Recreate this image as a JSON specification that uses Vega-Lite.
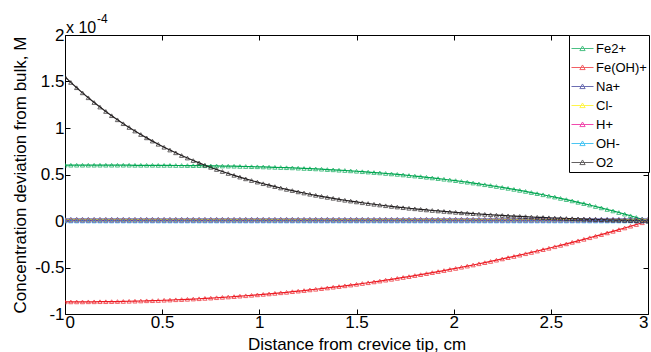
{
"$schema":"https://vega.github.io/schema/vega-lite/v6.json",
"width":583,"height":279,
"autosize":{"type":"none"},
"padding":{"left":65,"top":35,"right":3,"bottom":38},
"background":"white",
"config":{"view":{"stroke":null},"font":"Liberation Sans",
"axis":{"grid":false,"domainColor":"black","domainWidth":1,"tickColor":"black","tickWidth":1,"tickSize":-5,"labelColor":"black","titleColor":"black","labelFont":"Liberation Sans","titleFont":"Liberation Sans","labelFontSize":17,"titleFontSize":17,"titleFontWeight":"normal"}},
"datasets":{
"main":[
{"x":0,"ion":"Fe2+","c":0.6},{"x":0.03,"ion":"Fe2+","c":0.6},{"x":0.06,"ion":"Fe2+","c":0.6},{"x":0.09,"ion":"Fe2+","c":0.6},{"x":0.12,"ion":"Fe2+","c":0.6},{"x":0.15,"ion":"Fe2+","c":0.6},{"x":0.18,"ion":"Fe2+","c":0.6},{"x":0.21,"ion":"Fe2+","c":0.6},{"x":0.24,"ion":"Fe2+","c":0.6},{"x":0.27,"ion":"Fe2+","c":0.6},{"x":0.3,"ion":"Fe2+","c":0.6},{"x":0.33,"ion":"Fe2+","c":0.6},{"x":0.36,"ion":"Fe2+","c":0.599},{"x":0.39,"ion":"Fe2+","c":0.599},{"x":0.42,"ion":"Fe2+","c":0.599},{"x":0.45,"ion":"Fe2+","c":0.599},{"x":0.48,"ion":"Fe2+","c":0.598},{"x":0.51,"ion":"Fe2+","c":0.598},{"x":0.54,"ion":"Fe2+","c":0.598},{"x":0.57,"ion":"Fe2+","c":0.597},{"x":0.6,"ion":"Fe2+","c":0.597},{"x":0.63,"ion":"Fe2+","c":0.596},{"x":0.66,"ion":"Fe2+","c":0.595},{"x":0.69,"ion":"Fe2+","c":0.595},{"x":0.72,"ion":"Fe2+","c":0.594},{"x":0.75,"ion":"Fe2+","c":0.593},{"x":0.78,"ion":"Fe2+","c":0.592},{"x":0.81,"ion":"Fe2+","c":0.591},{"x":0.84,"ion":"Fe2+","c":0.59},{"x":0.87,"ion":"Fe2+","c":0.589},{"x":0.9,"ion":"Fe2+","c":0.587},{"x":0.93,"ion":"Fe2+","c":0.586},{"x":0.96,"ion":"Fe2+","c":0.584},{"x":0.99,"ion":"Fe2+","c":0.583},{"x":1.02,"ion":"Fe2+","c":0.581},{"x":1.05,"ion":"Fe2+","c":0.579},{"x":1.08,"ion":"Fe2+","c":0.577},{"x":1.11,"ion":"Fe2+","c":0.575},{"x":1.14,"ion":"Fe2+","c":0.573},{"x":1.17,"ion":"Fe2+","c":0.571},{"x":1.2,"ion":"Fe2+","c":0.568},{"x":1.23,"ion":"Fe2+","c":0.565},{"x":1.26,"ion":"Fe2+","c":0.563},{"x":1.29,"ion":"Fe2+","c":0.56},{"x":1.32,"ion":"Fe2+","c":0.557},{"x":1.35,"ion":"Fe2+","c":0.553},{"x":1.38,"ion":"Fe2+","c":0.55},{"x":1.41,"ion":"Fe2+","c":0.546},{"x":1.44,"ion":"Fe2+","c":0.543},{"x":1.47,"ion":"Fe2+","c":0.539},{"x":1.5,"ion":"Fe2+","c":0.535},{"x":1.53,"ion":"Fe2+","c":0.53},{"x":1.56,"ion":"Fe2+","c":0.526},{"x":1.59,"ion":"Fe2+","c":0.521},{"x":1.62,"ion":"Fe2+","c":0.517},{"x":1.65,"ion":"Fe2+","c":0.511},{"x":1.68,"ion":"Fe2+","c":0.506},{"x":1.71,"ion":"Fe2+","c":0.501},{"x":1.74,"ion":"Fe2+","c":0.495},{"x":1.77,"ion":"Fe2+","c":0.489},{"x":1.8,"ion":"Fe2+","c":0.483},{"x":1.83,"ion":"Fe2+","c":0.477},{"x":1.86,"ion":"Fe2+","c":0.47},{"x":1.89,"ion":"Fe2+","c":0.463},{"x":1.92,"ion":"Fe2+","c":0.456},{"x":1.95,"ion":"Fe2+","c":0.449},{"x":1.98,"ion":"Fe2+","c":0.441},{"x":2.01,"ion":"Fe2+","c":0.434},{"x":2.04,"ion":"Fe2+","c":0.425},{"x":2.07,"ion":"Fe2+","c":0.417},{"x":2.1,"ion":"Fe2+","c":0.408},{"x":2.13,"ion":"Fe2+","c":0.399},{"x":2.16,"ion":"Fe2+","c":0.39},{"x":2.19,"ion":"Fe2+","c":0.381},{"x":2.22,"ion":"Fe2+","c":0.371},{"x":2.25,"ion":"Fe2+","c":0.361},{"x":2.28,"ion":"Fe2+","c":0.351},{"x":2.31,"ion":"Fe2+","c":0.34},{"x":2.34,"ion":"Fe2+","c":0.329},{"x":2.37,"ion":"Fe2+","c":0.318},{"x":2.4,"ion":"Fe2+","c":0.306},{"x":2.43,"ion":"Fe2+","c":0.294},{"x":2.46,"ion":"Fe2+","c":0.282},{"x":2.49,"ion":"Fe2+","c":0.269},{"x":2.52,"ion":"Fe2+","c":0.257},{"x":2.55,"ion":"Fe2+","c":0.243},{"x":2.58,"ion":"Fe2+","c":0.23},{"x":2.61,"ion":"Fe2+","c":0.216},{"x":2.64,"ion":"Fe2+","c":0.201},{"x":2.67,"ion":"Fe2+","c":0.187},{"x":2.7,"ion":"Fe2+","c":0.172},{"x":2.73,"ion":"Fe2+","c":0.156},{"x":2.76,"ion":"Fe2+","c":0.141},{"x":2.79,"ion":"Fe2+","c":0.124},{"x":2.82,"ion":"Fe2+","c":0.108},{"x":2.85,"ion":"Fe2+","c":0.091},{"x":2.88,"ion":"Fe2+","c":0.074},{"x":2.91,"ion":"Fe2+","c":0.056},{"x":2.94,"ion":"Fe2+","c":0.038},{"x":2.97,"ion":"Fe2+","c":0.019},{"x":3,"ion":"Fe2+","c":0},
{"x":0,"ion":"Fe(OH)+","c":-0.87},{"x":0.03,"ion":"Fe(OH)+","c":-0.87},{"x":0.06,"ion":"Fe(OH)+","c":-0.87},{"x":0.09,"ion":"Fe(OH)+","c":-0.87},{"x":0.12,"ion":"Fe(OH)+","c":-0.869},{"x":0.15,"ion":"Fe(OH)+","c":-0.869},{"x":0.18,"ion":"Fe(OH)+","c":-0.868},{"x":0.21,"ion":"Fe(OH)+","c":-0.868},{"x":0.24,"ion":"Fe(OH)+","c":-0.867},{"x":0.27,"ion":"Fe(OH)+","c":-0.866},{"x":0.3,"ion":"Fe(OH)+","c":-0.865},{"x":0.33,"ion":"Fe(OH)+","c":-0.863},{"x":0.36,"ion":"Fe(OH)+","c":-0.862},{"x":0.39,"ion":"Fe(OH)+","c":-0.86},{"x":0.42,"ion":"Fe(OH)+","c":-0.858},{"x":0.45,"ion":"Fe(OH)+","c":-0.857},{"x":0.48,"ion":"Fe(OH)+","c":-0.855},{"x":0.51,"ion":"Fe(OH)+","c":-0.852},{"x":0.54,"ion":"Fe(OH)+","c":-0.85},{"x":0.57,"ion":"Fe(OH)+","c":-0.847},{"x":0.6,"ion":"Fe(OH)+","c":-0.845},{"x":0.63,"ion":"Fe(OH)+","c":-0.842},{"x":0.66,"ion":"Fe(OH)+","c":-0.839},{"x":0.69,"ion":"Fe(OH)+","c":-0.836},{"x":0.72,"ion":"Fe(OH)+","c":-0.832},{"x":0.75,"ion":"Fe(OH)+","c":-0.829},{"x":0.78,"ion":"Fe(OH)+","c":-0.825},{"x":0.81,"ion":"Fe(OH)+","c":-0.821},{"x":0.84,"ion":"Fe(OH)+","c":-0.817},{"x":0.87,"ion":"Fe(OH)+","c":-0.813},{"x":0.9,"ion":"Fe(OH)+","c":-0.808},{"x":0.93,"ion":"Fe(OH)+","c":-0.804},{"x":0.96,"ion":"Fe(OH)+","c":-0.799},{"x":0.99,"ion":"Fe(OH)+","c":-0.794},{"x":1.02,"ion":"Fe(OH)+","c":-0.789},{"x":1.05,"ion":"Fe(OH)+","c":-0.784},{"x":1.08,"ion":"Fe(OH)+","c":-0.778},{"x":1.11,"ion":"Fe(OH)+","c":-0.772},{"x":1.14,"ion":"Fe(OH)+","c":-0.767},{"x":1.17,"ion":"Fe(OH)+","c":-0.76},{"x":1.2,"ion":"Fe(OH)+","c":-0.754},{"x":1.23,"ion":"Fe(OH)+","c":-0.748},{"x":1.26,"ion":"Fe(OH)+","c":-0.741},{"x":1.29,"ion":"Fe(OH)+","c":-0.734},{"x":1.32,"ion":"Fe(OH)+","c":-0.727},{"x":1.35,"ion":"Fe(OH)+","c":-0.72},{"x":1.38,"ion":"Fe(OH)+","c":-0.712},{"x":1.41,"ion":"Fe(OH)+","c":-0.705},{"x":1.44,"ion":"Fe(OH)+","c":-0.697},{"x":1.47,"ion":"Fe(OH)+","c":-0.689},{"x":1.5,"ion":"Fe(OH)+","c":-0.681},{"x":1.53,"ion":"Fe(OH)+","c":-0.672},{"x":1.56,"ion":"Fe(OH)+","c":-0.664},{"x":1.59,"ion":"Fe(OH)+","c":-0.655},{"x":1.62,"ion":"Fe(OH)+","c":-0.646},{"x":1.65,"ion":"Fe(OH)+","c":-0.636},{"x":1.68,"ion":"Fe(OH)+","c":-0.627},{"x":1.71,"ion":"Fe(OH)+","c":-0.617},{"x":1.74,"ion":"Fe(OH)+","c":-0.607},{"x":1.77,"ion":"Fe(OH)+","c":-0.598},{"x":1.8,"ion":"Fe(OH)+","c":-0.587},{"x":1.83,"ion":"Fe(OH)+","c":-0.577},{"x":1.86,"ion":"Fe(OH)+","c":-0.566},{"x":1.89,"ion":"Fe(OH)+","c":-0.555},{"x":1.92,"ion":"Fe(OH)+","c":-0.544},{"x":1.95,"ion":"Fe(OH)+","c":-0.533},{"x":1.98,"ion":"Fe(OH)+","c":-0.521},{"x":2.01,"ion":"Fe(OH)+","c":-0.51},{"x":2.04,"ion":"Fe(OH)+","c":-0.497},{"x":2.07,"ion":"Fe(OH)+","c":-0.485},{"x":2.1,"ion":"Fe(OH)+","c":-0.473},{"x":2.13,"ion":"Fe(OH)+","c":-0.46},{"x":2.16,"ion":"Fe(OH)+","c":-0.448},{"x":2.19,"ion":"Fe(OH)+","c":-0.435},{"x":2.22,"ion":"Fe(OH)+","c":-0.421},{"x":2.25,"ion":"Fe(OH)+","c":-0.408},{"x":2.28,"ion":"Fe(OH)+","c":-0.394},{"x":2.31,"ion":"Fe(OH)+","c":-0.381},{"x":2.34,"ion":"Fe(OH)+","c":-0.367},{"x":2.37,"ion":"Fe(OH)+","c":-0.352},{"x":2.4,"ion":"Fe(OH)+","c":-0.338},{"x":2.43,"ion":"Fe(OH)+","c":-0.323},{"x":2.46,"ion":"Fe(OH)+","c":-0.308},{"x":2.49,"ion":"Fe(OH)+","c":-0.293},{"x":2.52,"ion":"Fe(OH)+","c":-0.277},{"x":2.55,"ion":"Fe(OH)+","c":-0.262},{"x":2.58,"ion":"Fe(OH)+","c":-0.246},{"x":2.61,"ion":"Fe(OH)+","c":-0.229},{"x":2.64,"ion":"Fe(OH)+","c":-0.213},{"x":2.67,"ion":"Fe(OH)+","c":-0.197},{"x":2.7,"ion":"Fe(OH)+","c":-0.18},{"x":2.73,"ion":"Fe(OH)+","c":-0.163},{"x":2.76,"ion":"Fe(OH)+","c":-0.146},{"x":2.79,"ion":"Fe(OH)+","c":-0.128},{"x":2.82,"ion":"Fe(OH)+","c":-0.111},{"x":2.85,"ion":"Fe(OH)+","c":-0.093},{"x":2.88,"ion":"Fe(OH)+","c":-0.075},{"x":2.91,"ion":"Fe(OH)+","c":-0.056},{"x":2.94,"ion":"Fe(OH)+","c":-0.038},{"x":2.97,"ion":"Fe(OH)+","c":-0.019},{"x":3,"ion":"Fe(OH)+","c":0},
{"x":0,"ion":"Na+","c":0.02},{"x":0.03,"ion":"Na+","c":0.02},{"x":0.06,"ion":"Na+","c":0.02},{"x":0.09,"ion":"Na+","c":0.02},{"x":0.12,"ion":"Na+","c":0.02},{"x":0.15,"ion":"Na+","c":0.02},{"x":0.18,"ion":"Na+","c":0.02},{"x":0.21,"ion":"Na+","c":0.02},{"x":0.24,"ion":"Na+","c":0.02},{"x":0.27,"ion":"Na+","c":0.02},{"x":0.3,"ion":"Na+","c":0.02},{"x":0.33,"ion":"Na+","c":0.02},{"x":0.36,"ion":"Na+","c":0.02},{"x":0.39,"ion":"Na+","c":0.02},{"x":0.42,"ion":"Na+","c":0.02},{"x":0.45,"ion":"Na+","c":0.02},{"x":0.48,"ion":"Na+","c":0.02},{"x":0.51,"ion":"Na+","c":0.02},{"x":0.54,"ion":"Na+","c":0.02},{"x":0.57,"ion":"Na+","c":0.02},{"x":0.6,"ion":"Na+","c":0.02},{"x":0.63,"ion":"Na+","c":0.02},{"x":0.66,"ion":"Na+","c":0.02},{"x":0.69,"ion":"Na+","c":0.02},{"x":0.72,"ion":"Na+","c":0.02},{"x":0.75,"ion":"Na+","c":0.02},{"x":0.78,"ion":"Na+","c":0.02},{"x":0.81,"ion":"Na+","c":0.02},{"x":0.84,"ion":"Na+","c":0.02},{"x":0.87,"ion":"Na+","c":0.02},{"x":0.9,"ion":"Na+","c":0.02},{"x":0.93,"ion":"Na+","c":0.02},{"x":0.96,"ion":"Na+","c":0.02},{"x":0.99,"ion":"Na+","c":0.02},{"x":1.02,"ion":"Na+","c":0.02},{"x":1.05,"ion":"Na+","c":0.02},{"x":1.08,"ion":"Na+","c":0.02},{"x":1.11,"ion":"Na+","c":0.02},{"x":1.14,"ion":"Na+","c":0.02},{"x":1.17,"ion":"Na+","c":0.02},{"x":1.2,"ion":"Na+","c":0.02},{"x":1.23,"ion":"Na+","c":0.02},{"x":1.26,"ion":"Na+","c":0.02},{"x":1.29,"ion":"Na+","c":0.02},{"x":1.32,"ion":"Na+","c":0.02},{"x":1.35,"ion":"Na+","c":0.02},{"x":1.38,"ion":"Na+","c":0.02},{"x":1.41,"ion":"Na+","c":0.02},{"x":1.44,"ion":"Na+","c":0.02},{"x":1.47,"ion":"Na+","c":0.02},{"x":1.5,"ion":"Na+","c":0.02},{"x":1.53,"ion":"Na+","c":0.02},{"x":1.56,"ion":"Na+","c":0.02},{"x":1.59,"ion":"Na+","c":0.02},{"x":1.62,"ion":"Na+","c":0.02},{"x":1.65,"ion":"Na+","c":0.02},{"x":1.68,"ion":"Na+","c":0.02},{"x":1.71,"ion":"Na+","c":0.02},{"x":1.74,"ion":"Na+","c":0.02},{"x":1.77,"ion":"Na+","c":0.02},{"x":1.8,"ion":"Na+","c":0.02},{"x":1.83,"ion":"Na+","c":0.02},{"x":1.86,"ion":"Na+","c":0.02},{"x":1.89,"ion":"Na+","c":0.02},{"x":1.92,"ion":"Na+","c":0.02},{"x":1.95,"ion":"Na+","c":0.02},{"x":1.98,"ion":"Na+","c":0.02},{"x":2.01,"ion":"Na+","c":0.02},{"x":2.04,"ion":"Na+","c":0.02},{"x":2.07,"ion":"Na+","c":0.02},{"x":2.1,"ion":"Na+","c":0.02},{"x":2.13,"ion":"Na+","c":0.02},{"x":2.16,"ion":"Na+","c":0.02},{"x":2.19,"ion":"Na+","c":0.02},{"x":2.22,"ion":"Na+","c":0.02},{"x":2.25,"ion":"Na+","c":0.02},{"x":2.28,"ion":"Na+","c":0.02},{"x":2.31,"ion":"Na+","c":0.02},{"x":2.34,"ion":"Na+","c":0.02},{"x":2.37,"ion":"Na+","c":0.02},{"x":2.4,"ion":"Na+","c":0.02},{"x":2.43,"ion":"Na+","c":0.02},{"x":2.46,"ion":"Na+","c":0.02},{"x":2.49,"ion":"Na+","c":0.02},{"x":2.52,"ion":"Na+","c":0.02},{"x":2.55,"ion":"Na+","c":0.02},{"x":2.58,"ion":"Na+","c":0.02},{"x":2.61,"ion":"Na+","c":0.02},{"x":2.64,"ion":"Na+","c":0.02},{"x":2.67,"ion":"Na+","c":0.02},{"x":2.7,"ion":"Na+","c":0.02},{"x":2.73,"ion":"Na+","c":0.02},{"x":2.76,"ion":"Na+","c":0.02},{"x":2.79,"ion":"Na+","c":0.02},{"x":2.82,"ion":"Na+","c":0.02},{"x":2.85,"ion":"Na+","c":0.02},{"x":2.88,"ion":"Na+","c":0.02},{"x":2.91,"ion":"Na+","c":0.02},{"x":2.94,"ion":"Na+","c":0.02},{"x":2.97,"ion":"Na+","c":0.02},{"x":3,"ion":"Na+","c":0.02},
{"x":0,"ion":"Cl-","c":0.01},{"x":0.03,"ion":"Cl-","c":0.01},{"x":0.06,"ion":"Cl-","c":0.01},{"x":0.09,"ion":"Cl-","c":0.01},{"x":0.12,"ion":"Cl-","c":0.01},{"x":0.15,"ion":"Cl-","c":0.01},{"x":0.18,"ion":"Cl-","c":0.01},{"x":0.21,"ion":"Cl-","c":0.01},{"x":0.24,"ion":"Cl-","c":0.01},{"x":0.27,"ion":"Cl-","c":0.01},{"x":0.3,"ion":"Cl-","c":0.01},{"x":0.33,"ion":"Cl-","c":0.01},{"x":0.36,"ion":"Cl-","c":0.01},{"x":0.39,"ion":"Cl-","c":0.01},{"x":0.42,"ion":"Cl-","c":0.01},{"x":0.45,"ion":"Cl-","c":0.01},{"x":0.48,"ion":"Cl-","c":0.01},{"x":0.51,"ion":"Cl-","c":0.01},{"x":0.54,"ion":"Cl-","c":0.01},{"x":0.57,"ion":"Cl-","c":0.01},{"x":0.6,"ion":"Cl-","c":0.01},{"x":0.63,"ion":"Cl-","c":0.01},{"x":0.66,"ion":"Cl-","c":0.01},{"x":0.69,"ion":"Cl-","c":0.01},{"x":0.72,"ion":"Cl-","c":0.01},{"x":0.75,"ion":"Cl-","c":0.01},{"x":0.78,"ion":"Cl-","c":0.01},{"x":0.81,"ion":"Cl-","c":0.01},{"x":0.84,"ion":"Cl-","c":0.01},{"x":0.87,"ion":"Cl-","c":0.01},{"x":0.9,"ion":"Cl-","c":0.01},{"x":0.93,"ion":"Cl-","c":0.01},{"x":0.96,"ion":"Cl-","c":0.01},{"x":0.99,"ion":"Cl-","c":0.01},{"x":1.02,"ion":"Cl-","c":0.01},{"x":1.05,"ion":"Cl-","c":0.01},{"x":1.08,"ion":"Cl-","c":0.01},{"x":1.11,"ion":"Cl-","c":0.01},{"x":1.14,"ion":"Cl-","c":0.01},{"x":1.17,"ion":"Cl-","c":0.01},{"x":1.2,"ion":"Cl-","c":0.01},{"x":1.23,"ion":"Cl-","c":0.01},{"x":1.26,"ion":"Cl-","c":0.01},{"x":1.29,"ion":"Cl-","c":0.01},{"x":1.32,"ion":"Cl-","c":0.01},{"x":1.35,"ion":"Cl-","c":0.01},{"x":1.38,"ion":"Cl-","c":0.01},{"x":1.41,"ion":"Cl-","c":0.01},{"x":1.44,"ion":"Cl-","c":0.01},{"x":1.47,"ion":"Cl-","c":0.01},{"x":1.5,"ion":"Cl-","c":0.01},{"x":1.53,"ion":"Cl-","c":0.01},{"x":1.56,"ion":"Cl-","c":0.01},{"x":1.59,"ion":"Cl-","c":0.01},{"x":1.62,"ion":"Cl-","c":0.01},{"x":1.65,"ion":"Cl-","c":0.01},{"x":1.68,"ion":"Cl-","c":0.01},{"x":1.71,"ion":"Cl-","c":0.01},{"x":1.74,"ion":"Cl-","c":0.01},{"x":1.77,"ion":"Cl-","c":0.01},{"x":1.8,"ion":"Cl-","c":0.01},{"x":1.83,"ion":"Cl-","c":0.01},{"x":1.86,"ion":"Cl-","c":0.01},{"x":1.89,"ion":"Cl-","c":0.01},{"x":1.92,"ion":"Cl-","c":0.01},{"x":1.95,"ion":"Cl-","c":0.01},{"x":1.98,"ion":"Cl-","c":0.01},{"x":2.01,"ion":"Cl-","c":0.01},{"x":2.04,"ion":"Cl-","c":0.01},{"x":2.07,"ion":"Cl-","c":0.01},{"x":2.1,"ion":"Cl-","c":0.01},{"x":2.13,"ion":"Cl-","c":0.01},{"x":2.16,"ion":"Cl-","c":0.01},{"x":2.19,"ion":"Cl-","c":0.01},{"x":2.22,"ion":"Cl-","c":0.01},{"x":2.25,"ion":"Cl-","c":0.01},{"x":2.28,"ion":"Cl-","c":0.01},{"x":2.31,"ion":"Cl-","c":0.01},{"x":2.34,"ion":"Cl-","c":0.01},{"x":2.37,"ion":"Cl-","c":0.01},{"x":2.4,"ion":"Cl-","c":0.01},{"x":2.43,"ion":"Cl-","c":0.01},{"x":2.46,"ion":"Cl-","c":0.01},{"x":2.49,"ion":"Cl-","c":0.01},{"x":2.52,"ion":"Cl-","c":0.01},{"x":2.55,"ion":"Cl-","c":0.01},{"x":2.58,"ion":"Cl-","c":0.01},{"x":2.61,"ion":"Cl-","c":0.01},{"x":2.64,"ion":"Cl-","c":0.01},{"x":2.67,"ion":"Cl-","c":0.01},{"x":2.7,"ion":"Cl-","c":0.01},{"x":2.73,"ion":"Cl-","c":0.01},{"x":2.76,"ion":"Cl-","c":0.01},{"x":2.79,"ion":"Cl-","c":0.01},{"x":2.82,"ion":"Cl-","c":0.01},{"x":2.85,"ion":"Cl-","c":0.01},{"x":2.88,"ion":"Cl-","c":0.01},{"x":2.91,"ion":"Cl-","c":0.01},{"x":2.94,"ion":"Cl-","c":0.01},{"x":2.97,"ion":"Cl-","c":0.01},{"x":3,"ion":"Cl-","c":0.01},
{"x":0,"ion":"H+","c":0.005},{"x":0.03,"ion":"H+","c":0.005},{"x":0.06,"ion":"H+","c":0.005},{"x":0.09,"ion":"H+","c":0.005},{"x":0.12,"ion":"H+","c":0.005},{"x":0.15,"ion":"H+","c":0.005},{"x":0.18,"ion":"H+","c":0.005},{"x":0.21,"ion":"H+","c":0.005},{"x":0.24,"ion":"H+","c":0.005},{"x":0.27,"ion":"H+","c":0.005},{"x":0.3,"ion":"H+","c":0.005},{"x":0.33,"ion":"H+","c":0.005},{"x":0.36,"ion":"H+","c":0.005},{"x":0.39,"ion":"H+","c":0.005},{"x":0.42,"ion":"H+","c":0.005},{"x":0.45,"ion":"H+","c":0.005},{"x":0.48,"ion":"H+","c":0.005},{"x":0.51,"ion":"H+","c":0.005},{"x":0.54,"ion":"H+","c":0.005},{"x":0.57,"ion":"H+","c":0.005},{"x":0.6,"ion":"H+","c":0.005},{"x":0.63,"ion":"H+","c":0.005},{"x":0.66,"ion":"H+","c":0.005},{"x":0.69,"ion":"H+","c":0.005},{"x":0.72,"ion":"H+","c":0.005},{"x":0.75,"ion":"H+","c":0.005},{"x":0.78,"ion":"H+","c":0.005},{"x":0.81,"ion":"H+","c":0.005},{"x":0.84,"ion":"H+","c":0.005},{"x":0.87,"ion":"H+","c":0.005},{"x":0.9,"ion":"H+","c":0.005},{"x":0.93,"ion":"H+","c":0.005},{"x":0.96,"ion":"H+","c":0.005},{"x":0.99,"ion":"H+","c":0.005},{"x":1.02,"ion":"H+","c":0.005},{"x":1.05,"ion":"H+","c":0.005},{"x":1.08,"ion":"H+","c":0.005},{"x":1.11,"ion":"H+","c":0.005},{"x":1.14,"ion":"H+","c":0.005},{"x":1.17,"ion":"H+","c":0.005},{"x":1.2,"ion":"H+","c":0.005},{"x":1.23,"ion":"H+","c":0.005},{"x":1.26,"ion":"H+","c":0.005},{"x":1.29,"ion":"H+","c":0.005},{"x":1.32,"ion":"H+","c":0.005},{"x":1.35,"ion":"H+","c":0.005},{"x":1.38,"ion":"H+","c":0.005},{"x":1.41,"ion":"H+","c":0.005},{"x":1.44,"ion":"H+","c":0.005},{"x":1.47,"ion":"H+","c":0.005},{"x":1.5,"ion":"H+","c":0.005},{"x":1.53,"ion":"H+","c":0.005},{"x":1.56,"ion":"H+","c":0.005},{"x":1.59,"ion":"H+","c":0.005},{"x":1.62,"ion":"H+","c":0.005},{"x":1.65,"ion":"H+","c":0.005},{"x":1.68,"ion":"H+","c":0.005},{"x":1.71,"ion":"H+","c":0.005},{"x":1.74,"ion":"H+","c":0.005},{"x":1.77,"ion":"H+","c":0.005},{"x":1.8,"ion":"H+","c":0.005},{"x":1.83,"ion":"H+","c":0.005},{"x":1.86,"ion":"H+","c":0.005},{"x":1.89,"ion":"H+","c":0.005},{"x":1.92,"ion":"H+","c":0.005},{"x":1.95,"ion":"H+","c":0.005},{"x":1.98,"ion":"H+","c":0.005},{"x":2.01,"ion":"H+","c":0.005},{"x":2.04,"ion":"H+","c":0.005},{"x":2.07,"ion":"H+","c":0.005},{"x":2.1,"ion":"H+","c":0.005},{"x":2.13,"ion":"H+","c":0.005},{"x":2.16,"ion":"H+","c":0.005},{"x":2.19,"ion":"H+","c":0.005},{"x":2.22,"ion":"H+","c":0.005},{"x":2.25,"ion":"H+","c":0.005},{"x":2.28,"ion":"H+","c":0.005},{"x":2.31,"ion":"H+","c":0.005},{"x":2.34,"ion":"H+","c":0.005},{"x":2.37,"ion":"H+","c":0.005},{"x":2.4,"ion":"H+","c":0.005},{"x":2.43,"ion":"H+","c":0.005},{"x":2.46,"ion":"H+","c":0.005},{"x":2.49,"ion":"H+","c":0.005},{"x":2.52,"ion":"H+","c":0.005},{"x":2.55,"ion":"H+","c":0.005},{"x":2.58,"ion":"H+","c":0.005},{"x":2.61,"ion":"H+","c":0.005},{"x":2.64,"ion":"H+","c":0.005},{"x":2.67,"ion":"H+","c":0.005},{"x":2.7,"ion":"H+","c":0.005},{"x":2.73,"ion":"H+","c":0.005},{"x":2.76,"ion":"H+","c":0.005},{"x":2.79,"ion":"H+","c":0.005},{"x":2.82,"ion":"H+","c":0.005},{"x":2.85,"ion":"H+","c":0.005},{"x":2.88,"ion":"H+","c":0.005},{"x":2.91,"ion":"H+","c":0.005},{"x":2.94,"ion":"H+","c":0.005},{"x":2.97,"ion":"H+","c":0.005},{"x":3,"ion":"H+","c":0.005},
{"x":0,"ion":"OH-","c":0},{"x":0.03,"ion":"OH-","c":0},{"x":0.06,"ion":"OH-","c":0},{"x":0.09,"ion":"OH-","c":0},{"x":0.12,"ion":"OH-","c":0},{"x":0.15,"ion":"OH-","c":0},{"x":0.18,"ion":"OH-","c":0},{"x":0.21,"ion":"OH-","c":0},{"x":0.24,"ion":"OH-","c":0},{"x":0.27,"ion":"OH-","c":0},{"x":0.3,"ion":"OH-","c":0},{"x":0.33,"ion":"OH-","c":0},{"x":0.36,"ion":"OH-","c":0},{"x":0.39,"ion":"OH-","c":0},{"x":0.42,"ion":"OH-","c":0},{"x":0.45,"ion":"OH-","c":0},{"x":0.48,"ion":"OH-","c":0},{"x":0.51,"ion":"OH-","c":0},{"x":0.54,"ion":"OH-","c":0},{"x":0.57,"ion":"OH-","c":0},{"x":0.6,"ion":"OH-","c":0},{"x":0.63,"ion":"OH-","c":0},{"x":0.66,"ion":"OH-","c":0},{"x":0.69,"ion":"OH-","c":0},{"x":0.72,"ion":"OH-","c":0},{"x":0.75,"ion":"OH-","c":0},{"x":0.78,"ion":"OH-","c":0},{"x":0.81,"ion":"OH-","c":0},{"x":0.84,"ion":"OH-","c":0},{"x":0.87,"ion":"OH-","c":0},{"x":0.9,"ion":"OH-","c":0},{"x":0.93,"ion":"OH-","c":0},{"x":0.96,"ion":"OH-","c":0},{"x":0.99,"ion":"OH-","c":0},{"x":1.02,"ion":"OH-","c":0},{"x":1.05,"ion":"OH-","c":0},{"x":1.08,"ion":"OH-","c":0},{"x":1.11,"ion":"OH-","c":0},{"x":1.14,"ion":"OH-","c":0},{"x":1.17,"ion":"OH-","c":0},{"x":1.2,"ion":"OH-","c":0},{"x":1.23,"ion":"OH-","c":0},{"x":1.26,"ion":"OH-","c":0},{"x":1.29,"ion":"OH-","c":0},{"x":1.32,"ion":"OH-","c":0},{"x":1.35,"ion":"OH-","c":0},{"x":1.38,"ion":"OH-","c":0},{"x":1.41,"ion":"OH-","c":0},{"x":1.44,"ion":"OH-","c":0},{"x":1.47,"ion":"OH-","c":0},{"x":1.5,"ion":"OH-","c":0},{"x":1.53,"ion":"OH-","c":0},{"x":1.56,"ion":"OH-","c":0},{"x":1.59,"ion":"OH-","c":0},{"x":1.62,"ion":"OH-","c":0},{"x":1.65,"ion":"OH-","c":0},{"x":1.68,"ion":"OH-","c":0},{"x":1.71,"ion":"OH-","c":0},{"x":1.74,"ion":"OH-","c":0},{"x":1.77,"ion":"OH-","c":0},{"x":1.8,"ion":"OH-","c":0},{"x":1.83,"ion":"OH-","c":0},{"x":1.86,"ion":"OH-","c":0},{"x":1.89,"ion":"OH-","c":0},{"x":1.92,"ion":"OH-","c":0},{"x":1.95,"ion":"OH-","c":0},{"x":1.98,"ion":"OH-","c":0},{"x":2.01,"ion":"OH-","c":0},{"x":2.04,"ion":"OH-","c":0},{"x":2.07,"ion":"OH-","c":0},{"x":2.1,"ion":"OH-","c":0},{"x":2.13,"ion":"OH-","c":0},{"x":2.16,"ion":"OH-","c":0},{"x":2.19,"ion":"OH-","c":0},{"x":2.22,"ion":"OH-","c":0},{"x":2.25,"ion":"OH-","c":0},{"x":2.28,"ion":"OH-","c":0},{"x":2.31,"ion":"OH-","c":0},{"x":2.34,"ion":"OH-","c":0},{"x":2.37,"ion":"OH-","c":0},{"x":2.4,"ion":"OH-","c":0},{"x":2.43,"ion":"OH-","c":0},{"x":2.46,"ion":"OH-","c":0},{"x":2.49,"ion":"OH-","c":0},{"x":2.52,"ion":"OH-","c":0},{"x":2.55,"ion":"OH-","c":0},{"x":2.58,"ion":"OH-","c":0},{"x":2.61,"ion":"OH-","c":0},{"x":2.64,"ion":"OH-","c":0},{"x":2.67,"ion":"OH-","c":0},{"x":2.7,"ion":"OH-","c":0},{"x":2.73,"ion":"OH-","c":0},{"x":2.76,"ion":"OH-","c":0},{"x":2.79,"ion":"OH-","c":0},{"x":2.82,"ion":"OH-","c":0},{"x":2.85,"ion":"OH-","c":0},{"x":2.88,"ion":"OH-","c":0},{"x":2.91,"ion":"OH-","c":0},{"x":2.94,"ion":"OH-","c":0},{"x":2.97,"ion":"OH-","c":0},{"x":3,"ion":"OH-","c":0},
{"x":0,"ion":"O2","c":1.55},{"x":0.03,"ion":"O2","c":1.49},{"x":0.06,"ion":"O2","c":1.433},{"x":0.09,"ion":"O2","c":1.378},{"x":0.12,"ion":"O2","c":1.325},{"x":0.15,"ion":"O2","c":1.274},{"x":0.18,"ion":"O2","c":1.225},{"x":0.21,"ion":"O2","c":1.178},{"x":0.24,"ion":"O2","c":1.132},{"x":0.27,"ion":"O2","c":1.088},{"x":0.3,"ion":"O2","c":1.046},{"x":0.33,"ion":"O2","c":1.006},{"x":0.36,"ion":"O2","c":0.967},{"x":0.39,"ion":"O2","c":0.93},{"x":0.42,"ion":"O2","c":0.894},{"x":0.45,"ion":"O2","c":0.859},{"x":0.48,"ion":"O2","c":0.825},{"x":0.51,"ion":"O2","c":0.793},{"x":0.54,"ion":"O2","c":0.763},{"x":0.57,"ion":"O2","c":0.733},{"x":0.6,"ion":"O2","c":0.704},{"x":0.63,"ion":"O2","c":0.677},{"x":0.66,"ion":"O2","c":0.65},{"x":0.69,"ion":"O2","c":0.625},{"x":0.72,"ion":"O2","c":0.6},{"x":0.75,"ion":"O2","c":0.577},{"x":0.78,"ion":"O2","c":0.554},{"x":0.81,"ion":"O2","c":0.532},{"x":0.84,"ion":"O2","c":0.511},{"x":0.87,"ion":"O2","c":0.491},{"x":0.9,"ion":"O2","c":0.472},{"x":0.93,"ion":"O2","c":0.453},{"x":0.96,"ion":"O2","c":0.435},{"x":0.99,"ion":"O2","c":0.418},{"x":1.02,"ion":"O2","c":0.401},{"x":1.05,"ion":"O2","c":0.385},{"x":1.08,"ion":"O2","c":0.37},{"x":1.11,"ion":"O2","c":0.355},{"x":1.14,"ion":"O2","c":0.34},{"x":1.17,"ion":"O2","c":0.327},{"x":1.2,"ion":"O2","c":0.313},{"x":1.23,"ion":"O2","c":0.301},{"x":1.26,"ion":"O2","c":0.288},{"x":1.29,"ion":"O2","c":0.276},{"x":1.32,"ion":"O2","c":0.265},{"x":1.35,"ion":"O2","c":0.254},{"x":1.38,"ion":"O2","c":0.244},{"x":1.41,"ion":"O2","c":0.233},{"x":1.44,"ion":"O2","c":0.223},{"x":1.47,"ion":"O2","c":0.214},{"x":1.5,"ion":"O2","c":0.205},{"x":1.53,"ion":"O2","c":0.196},{"x":1.56,"ion":"O2","c":0.188},{"x":1.59,"ion":"O2","c":0.18},{"x":1.62,"ion":"O2","c":0.172},{"x":1.65,"ion":"O2","c":0.164},{"x":1.68,"ion":"O2","c":0.157},{"x":1.71,"ion":"O2","c":0.15},{"x":1.74,"ion":"O2","c":0.143},{"x":1.77,"ion":"O2","c":0.137},{"x":1.8,"ion":"O2","c":0.131},{"x":1.83,"ion":"O2","c":0.125},{"x":1.86,"ion":"O2","c":0.119},{"x":1.89,"ion":"O2","c":0.113},{"x":1.92,"ion":"O2","c":0.108},{"x":1.95,"ion":"O2","c":0.103},{"x":1.98,"ion":"O2","c":0.098},{"x":2.01,"ion":"O2","c":0.093},{"x":2.04,"ion":"O2","c":0.088},{"x":2.07,"ion":"O2","c":0.084},{"x":2.1,"ion":"O2","c":0.079},{"x":2.13,"ion":"O2","c":0.075},{"x":2.16,"ion":"O2","c":0.071},{"x":2.19,"ion":"O2","c":0.067},{"x":2.22,"ion":"O2","c":0.063},{"x":2.25,"ion":"O2","c":0.06},{"x":2.28,"ion":"O2","c":0.056},{"x":2.31,"ion":"O2","c":0.053},{"x":2.34,"ion":"O2","c":0.05},{"x":2.37,"ion":"O2","c":0.047},{"x":2.4,"ion":"O2","c":0.043},{"x":2.43,"ion":"O2","c":0.04},{"x":2.46,"ion":"O2","c":0.038},{"x":2.49,"ion":"O2","c":0.035},{"x":2.52,"ion":"O2","c":0.032},{"x":2.55,"ion":"O2","c":0.03},{"x":2.58,"ion":"O2","c":0.027},{"x":2.61,"ion":"O2","c":0.025},{"x":2.64,"ion":"O2","c":0.022},{"x":2.67,"ion":"O2","c":0.02},{"x":2.7,"ion":"O2","c":0.018},{"x":2.73,"ion":"O2","c":0.016},{"x":2.76,"ion":"O2","c":0.014},{"x":2.79,"ion":"O2","c":0.012},{"x":2.82,"ion":"O2","c":0.01},{"x":2.85,"ion":"O2","c":0.009},{"x":2.88,"ion":"O2","c":0.007},{"x":2.91,"ion":"O2","c":0.005},{"x":2.94,"ion":"O2","c":0.003},{"x":2.97,"ion":"O2","c":0.002},{"x":3,"ion":"O2","c":0}
],
"labels":[{"t":"x 10","e":"-4"}]
},
"data":{"name":"main"},
"layer":[
{"mark":{"type":"line","strokeWidth":1.2,"clip":true},
"encoding":{
"x":{"field":"x","type":"quantitative","scale":{"domain":[0,3],"nice":false,"zero":false},"axis":{"orient":"bottom","values":[0,0.5,1,1.5,2,2.5,3],"labelExpr":"datum.value + ''","labelPadding":5,"title":"Distance from crevice tip, cm","titlePadding":6}},
"y":{"field":"c","type":"quantitative","scale":{"domain":[-1,2],"nice":false,"zero":false},"axis":{"orient":"left","values":[-1,-0.5,0,0.5,1,1.5,2],"labelExpr":"datum.value + ''","labelPadding":6,"title":"Concentration deviation from bulk, M","titlePadding":5}},
"color":{"field":"ion","type":"nominal","scale":{"domain":["Fe2+","Fe(OH)+","Na+","Cl-","H+","OH-","O2"],"range":["#00a651","#ed1c24","#2e3192","#fff200","#ec008c","#00aeef","#231f20"]},
"legend":{"orient":"none","legendX":504,"legendY":0,"title":null,"direction":"vertical","strokeColor":"black","fillColor":"white","padding":2,"symbolType":"M-1,0H1M0,-0.23L0.24,0.19L-0.24,0.19Z","symbolSize":484,"symbolStrokeWidth":1,"symbolFillColor":"transparent","labelFontSize":13,"labelFont":"Liberation Sans","labelColor":"black","labelOffset":2,"rowPadding":-3,"labelLimit":200}},
"order":{"field":"x","type":"quantitative"}}},
{"mark":{"type":"point","shape":"triangle-up","size":18,"filled":false,"strokeWidth":1,"clip":true},
"encoding":{
"x":{"field":"x","type":"quantitative","axis":{"orient":"top","values":[0,0.5,1,1.5,2,2.5,3],"labels":false,"title":null}},
"y":{"field":"c","type":"quantitative","axis":{"orient":"right","values":[-1,-0.5,0,0.5,1,1.5,2],"labels":false,"title":null}},
"color":{"field":"ion","type":"nominal","legend":{"orient":"none","legendX":504,"legendY":0,"title":null,"direction":"vertical","strokeColor":"black","fillColor":"white","padding":2,"symbolType":"M-1,0H1M0,-0.23L0.24,0.19L-0.24,0.19Z","symbolSize":484,"symbolStrokeWidth":1,"symbolFillColor":"transparent","labelFontSize":13,"labelFont":"Liberation Sans","labelColor":"black","labelOffset":2,"rowPadding":-3,"labelLimit":200}}}},
{"data":{"name":"labels"},
"mark":{"type":"text","align":"left","baseline":"alphabetic","font":"Liberation Sans","fontSize":16,"color":"black","dx":1,"dy":-2},
"encoding":{"x":{"datum":0,"type":"quantitative","axis":null},"y":{"datum":2,"type":"quantitative","axis":null},"text":{"field":"t"}}},
{"data":{"name":"labels"},
"mark":{"type":"text","align":"left","baseline":"alphabetic","font":"Liberation Sans","fontSize":12,"color":"black","dx":32,"dy":-12},
"encoding":{"x":{"datum":0,"type":"quantitative","axis":null},"y":{"datum":2,"type":"quantitative","axis":null},"text":{"field":"e"}}}
],
"resolve":{"axis":{"x":"independent","y":"independent"}}
}
